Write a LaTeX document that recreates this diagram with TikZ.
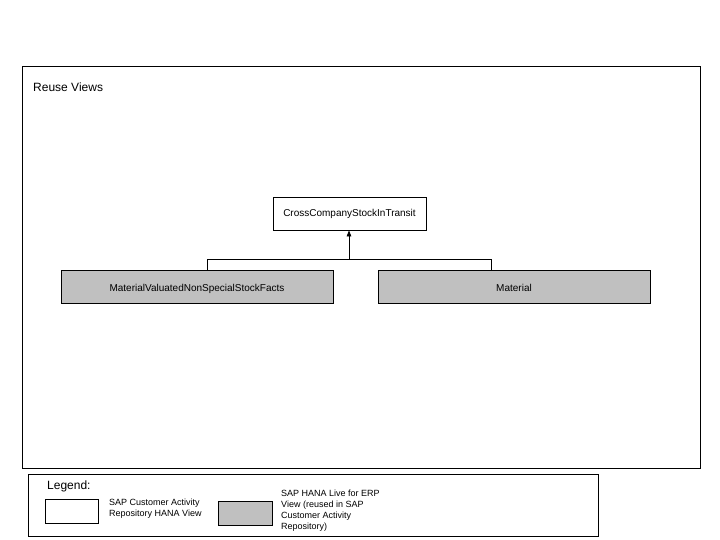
\documentclass[tikz,border=0pt]{standalone}
\usepackage{fontspec}
\setmainfont{Liberation Sans}
\usetikzlibrary{arrows.meta}
\definecolor{sapgray}{HTML}{C0C0C0}
\begin{document}
\begin{tikzpicture}[x=1pt,y=-1pt,
  frame/.style={draw=black,line width=0.8pt},
  viewbox/.style={draw=black,line width=0.8pt,fill=white,inner sep=0pt,text height=7pt,text depth=2pt,font=\fontsize{10}{12}\selectfont},
  erpbox/.style={viewbox,fill=sapgray},
  conn/.style={draw=black,line width=0.8pt},
  lbl/.style={anchor=west,inner sep=0pt,align=left}]
\useasboundingbox (0,0) rectangle (720,540);
% outer frame
\draw[frame] (22,66) rectangle (700,468);
\node[lbl,font=\fontsize{12}{14}\selectfont] (title) at (33,87.5) {Reuse Views};
% nodes
\node[viewbox,minimum width=153pt,minimum height=33pt] (cc) at (349.5,213.5) {CrossCompanyStockInTransit};
\node[erpbox,minimum width=272pt,minimum height=33pt] (mv) at (197,286.5) {\raisebox{-2pt}{MaterialValuatedNonSpecialStockFacts}};
\node[erpbox,minimum width=272pt,minimum height=33pt] (mat) at (514,286.5) {\raisebox{-2pt}{Material}};
% connectors
\coordinate (j) at (349,259);
\draw[conn] (mv.north -| 207,0) |- (j);
\draw[conn] (mat.north -| 491,0) |- (j);
\draw[conn,-{Triangle[width=4.5pt,length=6pt]}] (j) -- (cc.south -| j);
% legend
\draw[frame] (28,474) rectangle (598,536);
\node[lbl,font=\fontsize{12}{14}\selectfont] (leg) at (47,486) {Legend:};
\node[viewbox,minimum width=53pt,minimum height=24pt] (lw) at (71.5,511) {};
\node[lbl,font=\fontsize{9}{11}\selectfont] (lwt) at (109,508.5) {SAP Customer Activity\\Repository HANA View};
\node[erpbox,minimum width=54pt,minimum height=24pt] (lg) at (245,513) {};
\node[lbl,font=\fontsize{9}{11}\selectfont] (lgt) at (281,511) {SAP HANA Live for ERP\\View (reused in SAP\\Customer Activity\\Repository)};
\end{tikzpicture}
\end{document}
